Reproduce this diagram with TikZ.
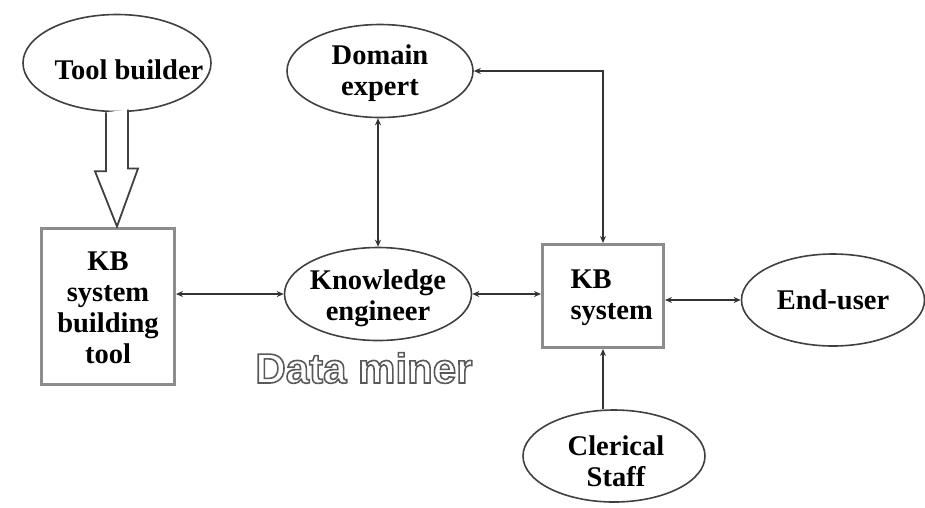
\documentclass[tikz,border=0pt]{standalone}
\usepackage{fontspec}
\setmainfont{Liberation Serif}
\setsansfont{Liberation Sans}
\usepackage{tikz}
\usetikzlibrary{arrows.meta,shapes.geometric}

% outlined letters (text render mode 1)
\newcommand\outlinetxt[1]{\special{pdf:literal direct 1 Tr 1.6 w}#1\special{pdf:literal direct 0 Tr}}

\begin{document}
\begin{tikzpicture}[x=1pt,y=-1pt,
  >={Stealth[length=7pt,width=6pt]},
  every node/.style={font=\bfseries\fontsize{28.5}{31}\selectfont,align=center},
  actor/.style={ellipse,draw=black!75,line width=1.6pt,inner sep=0pt},
  tool/.style={rectangle,draw=black!45,line width=3pt,inner sep=0pt},
  link/.style={<->,draw=black!80,line width=1.8pt},
  hollow/.style={draw=black!75,line width=1.8pt,fill=white}]

\useasboundingbox (0,0) rectangle (925,507);

\node[actor,minimum width=188pt,minimum height=97pt] (toolb) at (117,63) {};
\node at (129,70) {Tool builder};
\node[actor,minimum width=186pt,minimum height=93pt] (domain) at (380,71) {};
\node at (380,73) {Domain\\expert};
\node[actor,minimum width=187pt,minimum height=93pt] (keng) at (378,294) {};
\node at (378,298) {Knowledge\\engineer};
\node[actor,minimum width=183pt,minimum height=92pt] (enduser) at (833,300) {};
\node at (833,300) {End-user};
\node[actor,minimum width=182pt,minimum height=92pt] (clerk) at (614,456) {};
\node at (616,461) {Clerical\\Staff};

\node[tool,minimum width=133pt,minimum height=156pt] (kbtool) at (108,306) {};
\node at (108,308) {KB\\system\\building\\tool};
\node[tool,minimum width=121pt,minimum height=103pt] (kbsys) at (603,296) {};
\node[align=left,anchor=west] at (567,298) {KB\\system};

\node[font=\sffamily\bfseries\fontsize{42}{46}\selectfont,text=black!65] (miner) at (364,368) {\outlinetxt{Data miner}};

% hollow arrow from the tool builder
\path[hollow] (toolb.south) ++(-11,0) -- ++(0,59) -- ++(-11,0)
  -- (toolb.south |- kbtool.north) -- ++(21,-58) -- ++(-10,0) -- ++(0,-59);

\path
  (kbtool.east |- keng.west) edge[link] (keng.west)
  (keng.east) edge[link] (kbsys.west |- keng.east)
  (domain.south -| keng.north) edge[link] (keng.north)
  (kbsys.east |- enduser.west) edge[link] (enduser.west)
  (clerk.north -| kbsys.south) edge[->,draw=black!80,line width=1.8pt] (kbsys.south)
  ;
\draw[link] (kbsys.north) |- (domain.east);

\end{tikzpicture}
\end{document}
